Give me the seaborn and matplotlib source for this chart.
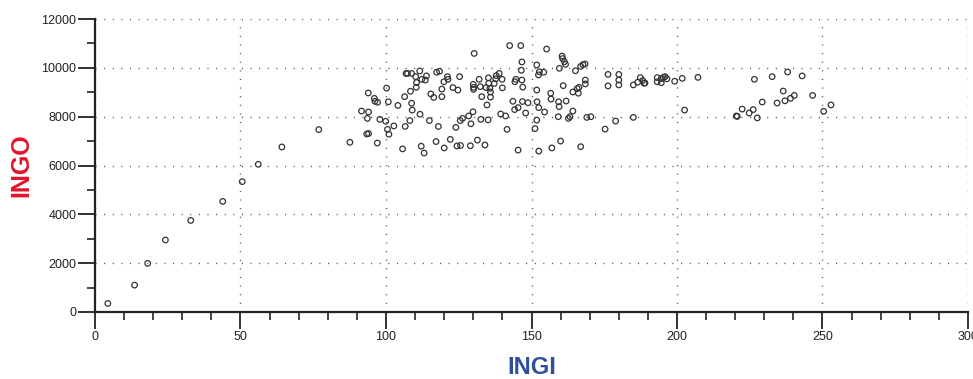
import matplotlib
matplotlib.use("Agg")
import matplotlib.pyplot as plt
from matplotlib.ticker import MultipleLocator
import seaborn as sns
import pandas as pd

# INGI (x) values
ingi = [4.4, 13.6, 18.1, 24.2, 32.9, 43.9, 50.6, 56.1, 64.2, 76.9,
        87.6, 91.6, 93.9, 94.0, 93.6, 93.4, 94.0, 96.0, 97.1, 96.2,
        97.0, 97.9, 99.9, 100.2, 100.8, 100.5, 101.0, 102.7, 104.1, 105.7,
        106.6, 106.4, 106.9, 107.4, 108.4, 108.2, 108.8, 109.0, 108.8, 110.2,
        110.4, 110.5, 111.6, 111.7, 112.1, 113.1, 112.3, 113.5, 113.9, 114.9,
        115.4, 116.4, 117.2, 117.4, 118.4, 118.0, 119.2, 119.2, 119.9, 120.0,
        121.1, 121.3, 122.1, 123.0, 124.0, 124.4, 124.7, 125.6, 125.3, 125.5,
        126.3, 128.4, 129.0, 129.2, 129.9, 130.3, 130.0, 130.1, 130.1, 131.4,
        132.0, 132.4, 132.6, 132.9, 134.0, 134.4, 134.7, 135.1, 135.2, 135.3,
        135.7, 135.9, 135.9, 137.2, 137.7, 137.9, 138.9, 139.4, 139.9, 140.0,
        141.1, 141.6, 142.5, 143.6, 144.3, 144.2, 145.4, 144.6, 145.4, 146.3,
        146.5, 146.7, 146.7, 146.9, 147.0, 148.0, 148.8, 151.8, 152.7, 152.4,
        154.2, 155.2, 151.8, 151.9, 152.5, 151.8, 151.2, 152.5, 154.5, 156.6,
        156.7, 157.0, 159.3, 159.5, 159.2, 159.6, 160.0, 160.5, 160.7, 161.3,
        161.7, 160.9, 161.9, 162.7, 163.2, 164.2, 164.2, 165.1, 165.7, 166.1,
        166.3, 166.9, 166.9, 167.7, 168.4, 168.5, 168.5, 169.0, 170.4, 175.3,
        176.3, 176.3, 178.9, 180.0, 180.0, 180.0, 185.0, 185.0, 186.5, 187.4,
        188.2, 188.7, 189.0, 193.2, 193.2, 194.6, 194.6, 195.3, 195.9, 196.5,
        199.2, 201.8, 202.6, 207.2, 220.4, 220.7, 222.4, 224.8, 226.2, 227.6,
        226.6, 229.3, 232.7, 234.4, 236.5, 237.1, 238.0, 239.0, 240.3, 243.0,
        246.6, 250.4, 252.9]

# INGO (y) values
ingo = [350, 1100, 1990, 2950, 3750, 4530, 5340, 6050, 6760, 7470,
        6950, 8230, 8970, 8190, 7930, 7290, 7310, 8750, 8590, 8630,
        6920, 7890, 7810, 9170, 8610, 7480, 7280, 7620, 8460, 6680,
        7600, 8820, 9770, 9770, 9040, 7840, 8550, 8270, 9770, 9640,
        9200, 9400, 9870, 8100, 6790, 6510, 9530, 9500, 9670, 7840,
        8930, 8790, 6980, 9820, 9860, 7600, 8820, 9130, 9430, 6720,
        9640, 9530, 7070, 9190, 7560, 6800, 9090, 6820, 9640, 7840,
        7930, 8030, 6810, 7710, 8200, 10590, 9320, 9200, 9120, 7040,
        9530, 9230, 7890, 8820, 6840, 9190, 8480, 7870, 9590, 9370,
        9160, 9010, 8800, 9360, 9550, 9680, 9770, 8110, 9530, 9180,
        8030, 7480, 10910, 8630, 9430, 8290, 6630, 9530, 8370, 10910,
        9900, 10240, 9500, 8620, 9210, 8150, 8570, 10120, 9840, 9710,
        9820, 10770, 9090, 8610, 8370, 7860, 7510, 6590, 8190, 8960,
        8720, 6720, 8610, 8410, 8000, 9980, 7000, 10480, 10380, 10250,
        10140, 9270, 8640, 7930, 8000, 8230, 9010, 9880, 9150, 8960,
        9200, 6770, 10060, 10130, 10160, 9500, 9340, 7970, 8000, 7490,
        9730, 9260, 7820, 9730, 9500, 9300, 7970, 9300, 9410, 9600,
        9480, 9370, 9380, 9600, 9430, 9390, 9560, 9610, 9640, 9550,
        9450, 9570, 8270, 9610, 8030, 8010, 8310, 8150, 8290, 7950,
        9530, 8600, 9640, 8560, 9050, 8650, 9830, 8750, 8870, 9670,
        8870, 8220, 8480]

x_ticks = [0, 50, 100, 150, 200, 250, 300]
y_ticks = [0, 2000, 4000, 6000, 8000, 10000, 12000]

df = pd.DataFrame({"INGI": ingi, "INGO": ingo})

sns.set_style("white")
plt.rcParams["font.family"] = ["Liberation Sans", "DejaVu Sans"]

fig = plt.figure(figsize=(9.73, 3.79), dpi=100)
ax = fig.add_axes([95 / 973, 1 - 312 / 379, (968 - 95) / 973, (312 - 19) / 379])

sns.scatterplot(data=df, x="INGI", y="INGO", ax=ax, marker="o",
                facecolor="none", edgecolor="#333333", linewidth=0.9, s=16,
                zorder=3)

ax.set_xlim(0, 300)
ax.set_ylim(0, 12000)
ax.set_xticks(x_ticks)
ax.set_yticks(y_ticks)
ax.xaxis.set_minor_locator(MultipleLocator(10))
ax.yaxis.set_minor_locator(MultipleLocator(1000))

for s in ["top", "right"]:
    ax.spines[s].set_visible(False)
for s in ["left", "bottom"]:
    ax.spines[s].set_linewidth(1.6)
    ax.spines[s].set_color("#222222")

ax.tick_params(axis="both", which="both", bottom=True, left=True,
               top=False, right=False)
ax.tick_params(axis="both", which="major", direction="out", length=12.5,
               width=1.3, color="#222222", labelsize=9, labelcolor="#222222")
ax.tick_params(axis="both", which="minor", direction="out", length=6,
               width=1.2, color="#222222")
ax.tick_params(axis="y", which="major", pad=1)
ax.tick_params(axis="x", which="major", pad=1.5)

ax.grid(True, which="major", color="#555555", linestyle=(0, (0.8, 5.4)),
        linewidth=1.0)
ax.set_axisbelow(True)

ax.set_xlabel("INGI", color="#2E4E9E", fontsize=17, fontweight="bold",
              labelpad=9)
ax.set_ylabel("INGO", color="#E3142C", fontsize=18, fontweight="bold",
              labelpad=6)

fig.savefig("out.png", dpi=100)
